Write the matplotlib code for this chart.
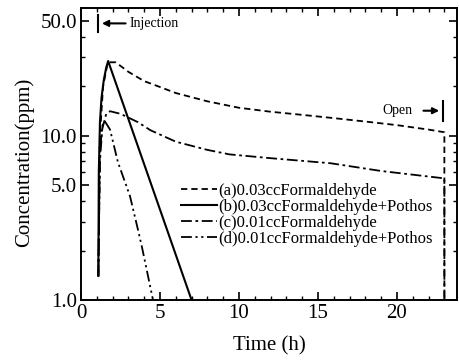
import matplotlib
matplotlib.use("Agg")
import matplotlib.pyplot as plt
from matplotlib.ticker import FixedLocator, FixedFormatter, NullFormatter

plt.rcParams['font.family'] = ['Liberation Serif', 'DejaVu Serif']

# (a) 0.03cc formaldehyde
t_a = [1.1, 1.2, 1.4, 1.7, 2.2, 3, 4, 5, 6, 8, 10, 12, 14, 16, 18, 20, 22, 23, 23]
c_a = [1.4, 10, 20, 28, 28, 24.5, 21.5, 19.8, 18.2, 16.2, 14.8, 14.0, 13.4, 12.8, 12.2, 11.6, 10.9, 10.5, 1.0]
# (b) 0.03cc formaldehyde + pothos
t_b = [1.1, 1.13, 1.2, 1.3, 1.45, 1.6, 1.72, 7.0]
c_b = [1.4, 6, 12, 17, 22, 26, 28.5, 1.0]
# (c) 0.01cc formaldehyde
t_c = [1.1, 1.2, 1.35, 1.6, 1.84, 2.5, 3.6, 4.4, 6, 8, 9.4, 12, 15.8, 19, 23, 23]
c_c = [1.4, 7, 11, 13.6, 14.1, 13.6, 12.1, 10.8, 9.2, 8.2, 7.7, 7.3, 6.8, 6.1, 5.5, 1.0]
# (d) 0.01cc formaldehyde + pothos
t_d = [1.1, 1.2, 1.35, 1.5, 1.84, 2.34, 3.1, 3.6, 3.86, 4.56]
c_d = [1.4, 8, 11.5, 12.3, 10.9, 6.9, 4.3, 2.7, 2.1, 1.0]

labels = ['(a)0.03ccFormaldehyde', '(b)0.03ccFormaldehyde+Pothos',
          '(c)0.01ccFormaldehyde', '(d)0.01ccFormaldehyde+Pothos']

y_major = [1, 5, 10, 50]
y_major_labels = ['1.0', '5.0', '10.0', '50.0']
y_minor = [2, 3, 4, 6, 7, 8, 9, 20, 30, 40]

fig = plt.figure(figsize=(4.6, 3.6), dpi=100)
ax = fig.add_axes([0.176, 0.1667, 0.8175, 0.8113])

ax.plot(t_a, c_a, color='black', lw=1.3, linestyle=(0, (3.5, 2.2)), label=labels[0])
ax.plot(t_b, c_b, color='black', lw=1.5, linestyle='-', label=labels[1])
ax.plot(t_c, c_c, color='black', lw=1.3, linestyle=(0, (6, 2, 1.5, 2)), label=labels[2])
ax.plot(t_d, c_d, color='black', lw=1.3, linestyle=(0, (6, 2, 1.2, 2, 1.2, 2)), label=labels[3])

ax.set_yscale('log')
ax.set_xlim(0, 23.8)
ax.set_ylim(1, 60)

ax.yaxis.set_major_locator(FixedLocator(y_major))
ax.yaxis.set_major_formatter(FixedFormatter(y_major_labels))
ax.yaxis.set_minor_locator(FixedLocator(y_minor))
ax.yaxis.set_minor_formatter(NullFormatter())
ax.set_xticks([0, 5, 10, 15, 20])
ax.set_xticks(range(0, 24), minor=True)

ax.tick_params(which='both', direction='in', top=True, right=True, labelsize=15, pad=3)
ax.tick_params(which='major', length=6, width=1.2)
ax.tick_params(which='minor', length=3, width=1.0)
for s in ax.spines.values():
    s.set_linewidth(1.4)

ax.set_xlabel('Time (h)', fontsize=15)
ax.set_ylabel('Concentration(ppm)', fontsize=15)
ax.xaxis.set_label_coords(0.5, -0.125)
ax.yaxis.set_label_coords(-0.125, 0.47)

# Injection marker
ax.plot([1.08, 1.08], [43, 54], color='black', lw=1.5)
ax.annotate('', xy=(1.15, 48.3), xytext=(3.0, 48.3),
            arrowprops=dict(arrowstyle='-|>', color='black', lw=1.5, mutation_scale=9))
ax.text(3.1, 48.3, 'Injection', fontsize=10, va='center', ha='left')

# Open marker
ax.plot([22.9, 22.9], [12.3, 16.3], color='black', lw=1.5)
ax.annotate('', xy=(22.85, 14.2), xytext=(21.5, 14.2),
            arrowprops=dict(arrowstyle='-|>', color='black', lw=1.5, mutation_scale=9))
ax.text(21.0, 14.2, 'Open', fontsize=10, va='center', ha='right')

ax.legend(loc='upper left', bbox_to_anchor=(0.265, 0.40), frameon=False, fontsize=12,
          handlelength=2.2, handletextpad=0.05, labelspacing=0.0, borderpad=0,
          borderaxespad=0)

fig.savefig('out.png', dpi=100)
